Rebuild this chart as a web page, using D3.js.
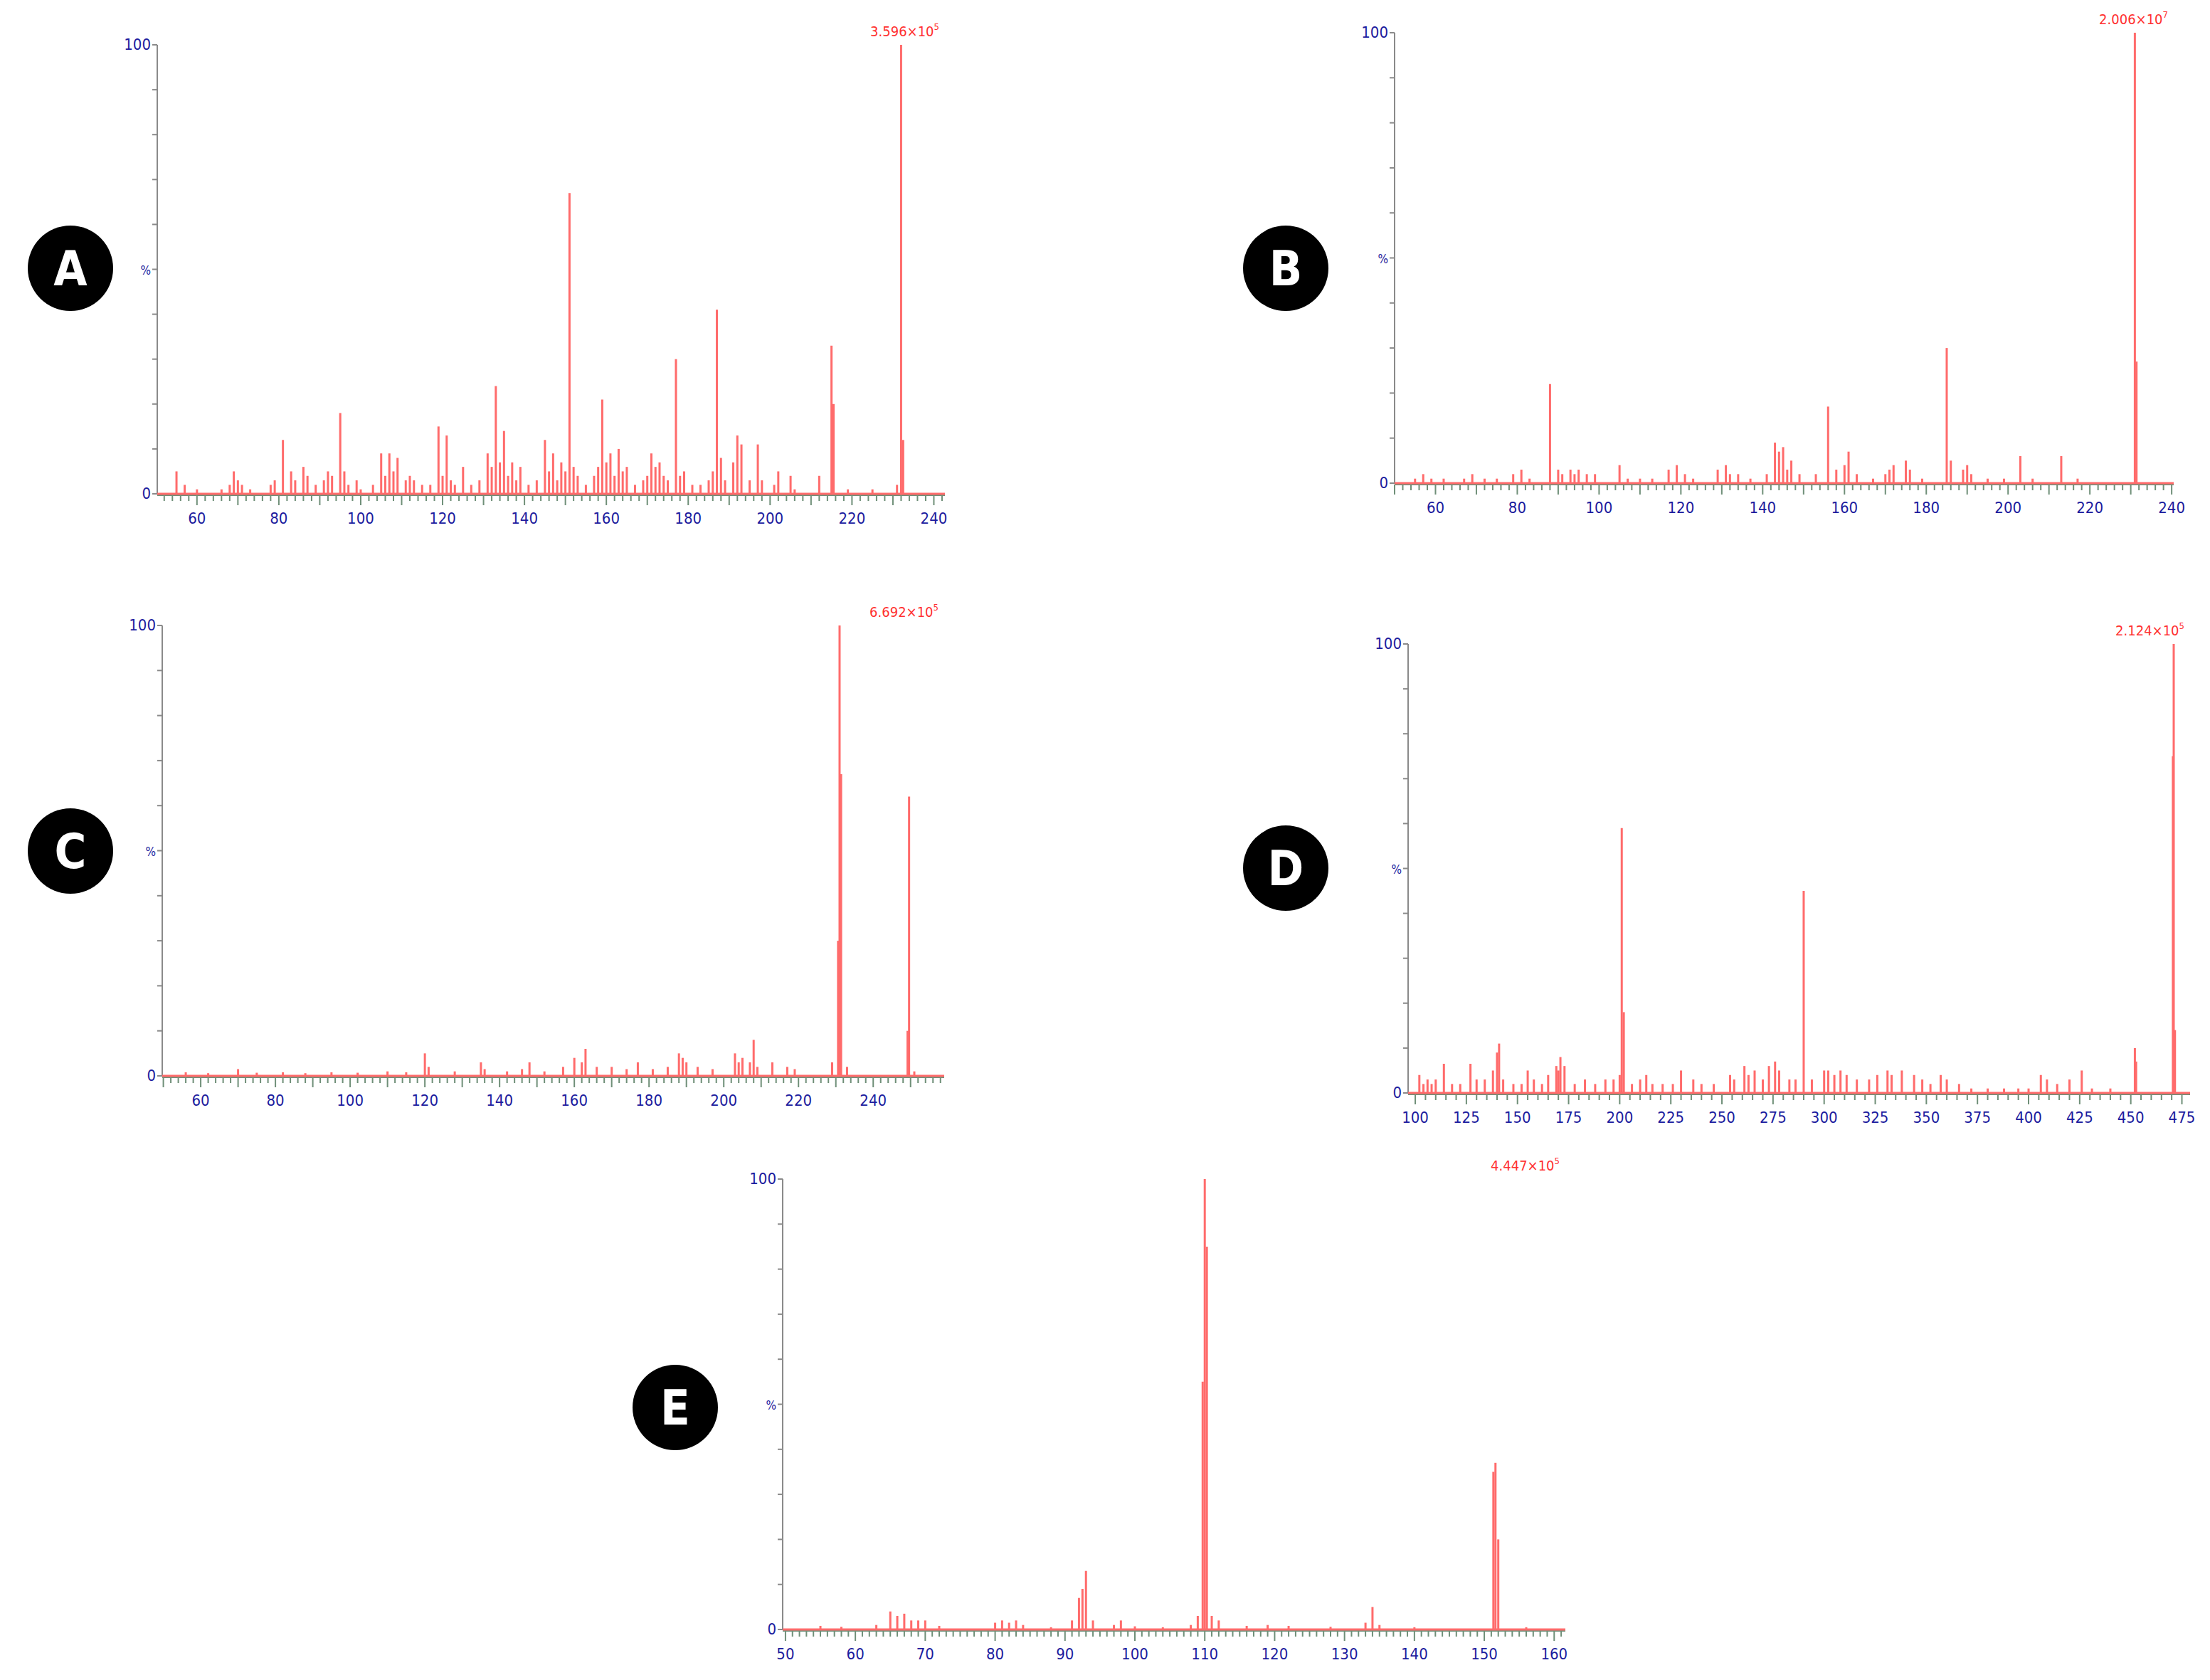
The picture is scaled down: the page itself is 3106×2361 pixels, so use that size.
<!DOCTYPE html>
<html>
<head>
<meta charset="utf-8">
<script src="https://cdn.jsdelivr.net/npm/d3@7"></script>
<style>
  body { margin: 0; background: #fff; }
  text { font-family: "Liberation Sans Narrow", "DejaVu Sans Condensed", sans-serif; }
</style>
</head>
<body>
<div id="image"></div>
<script>
// spectra: [m/z, relative intensity %]
const peaksA = [[55,5],[57,2],[60,1],[66,1],[68,2],[69,5],[70,3],[71,2],[73,1],[78,2],[79,3],[81,12],[83,5],[84,3],[86,6],[87,4],[89,2],[91,3],[92,5],[93,4],[95,18],[96,5],[97,2],[99,3],[100,1],[103,2],[105,9],[106,4],[107,9],[108,5],[109,8],[111,3],[112,4],[113,3],[115,2],[117,2],[119,15],[120,4],[121,13],[122,3],[123,2],[125,6],[127,2],[129,3],[131,9],[132,6],[133,24],[134,7],[135,14],[136,4],[137,7],[138,3],[139,6],[141,2],[143,3],[145,12],[146,5],[147,9],[148,3],[149,7],[150,5],[151,67],[152,6],[153,4],[155,2],[157,4],[158,6],[159,21],[160,7],[161,9],[162,4],[163,10],[164,5],[165,6],[167,2],[169,3],[170,4],[171,9],[172,6],[173,7],[174,4],[175,3],[177,30],[178,4],[179,5],[181,2],[183,2],[185,3],[186,5],[187,41],[188,8],[189,3],[191,7],[192,13],[193,11],[195,3],[197,11],[198,3],[201,2],[202,5],[205,4],[206,1],[212,4],[215,33],[215.5,20],[219,1],[225,1],[231,2],[232,100],[232.5,12]];
const peaksB = [[55,1],[57,2],[59,1],[62,1],[67,1],[69,2],[72,1],[75,1],[79,2],[81,3],[83,1],[88,22],[90,3],[91,2],[93,3],[94,2],[95,3],[97,2],[99,2],[105,4],[107,1],[110,1],[113,1],[117,3],[119,4],[121,2],[123,1],[129,3],[131,4],[132,2],[134,2],[137,1],[141,2],[143,9],[144,7],[145,8],[146,3],[147,5],[149,2],[153,2],[156,17],[158,3],[160,4],[161,7],[163,2],[167,1],[170,2],[171,3],[172,4],[175,5],[176,3],[179,1],[185,30],[186,5],[189,3],[190,4],[191,2],[195,1],[199,1],[203,6],[206,1],[213,6],[217,1],[231,100],[231.4,27]];
const peaksC = [[56,0.8],[62,0.6],[70,1.5],[75,0.7],[82,0.8],[88,0.6],[95,0.8],[102,0.7],[110,1],[115,0.8],[120,5],[121,2],[128,1],[135,3],[136,1.5],[142,1],[146,1.5],[148,3],[152,1],[157,2],[160,4],[162,3],[163,6],[166,2],[170,2],[174,1.5],[177,3],[181,1.5],[185,2],[188,5],[189,4],[190,3],[193,2],[197,1.5],[203,5],[204,3],[205,4],[207,3],[208,8],[209,2],[213,3],[217,2],[219,1.5],[229,3],[230.6,30],[231,100],[231.4,67],[233,2],[249.2,10],[249.6,62],[251,1]];
const peaksD = [[102,4],[104,2],[106,3],[108,2],[110,3],[114,6.5],[118,2],[122,2],[127,6.5],[130,3],[134,3],[138,5],[140,9],[141,11],[143,3],[148,2],[152,2],[155,5],[158,3],[162,2],[165,4],[169,6],[170,5],[171,8],[173,6],[178,2],[183,3],[188,2],[193,3],[197,3],[200,4],[201,59],[202,18],[206,2],[210,3],[213,4],[216,2],[221,2],[226,2],[230,5],[236,3],[240,2],[246,2],[254,4],[256,3],[261,6],[263,4],[266,5],[270,3],[273,6],[276,7],[278,5],[283,3],[286,3],[290,45],[294,3],[300,5],[302,5],[305,4],[308,5],[311,4],[316,3],[322,3],[326,4],[331,5],[333,4],[338,5],[344,4],[348,3],[352,2],[357,4],[360,3],[366,2],[372,1],[380,1],[388,1],[395,1],[400,1],[406,4],[409,3],[414,2],[420,3],[426,5],[431,1],[440,1],[452,10],[452.6,7],[470.6,75],[471,100],[471.6,14]];
const peaksE = [[55,0.8],[58,0.6],[63,1],[65,4],[66,3],[67,3.5],[68,2],[69,2],[70,2],[72,0.8],[80,1.5],[81,2],[82,1.5],[83,2],[84,1],[88,0.5],[91,2],[92,7],[92.5,9],[93,13],[94,2],[97,1],[98,2],[100,0.7],[104,0.5],[108,1],[109,3],[109.7,55],[110,100],[110.3,85],[111,3],[112,2],[116,0.8],[119,1],[122,0.8],[128,0.6],[133,1.5],[134,5],[135,1],[140,0.5],[151.3,35],[151.6,37],[152,20],[156,0.5]];

const peakLabels = ["3.596×10", "2.006×10", "6.692×10", "2.124×10", "4.447×10"];
const peakExps = ["5", "7", "5", "5", "5"];
const panelLetters = ["A", "B", "C", "D", "E"];
const xDomains = [[50.3, 242.7], [50, 240.5], [49.7, 259], [96.5, 479], [49.6, 161.6]];
const xMajorTicks = [
  [60,80,100,120,140,160,180,200,220,240],
  [60,80,100,120,140,160,180,200,220,240],
  [60,80,100,120,140,160,180,200,220,240],
  [100,125,150,175,200,225,250,275,300,325,350,375,400,425,450,475],
  [50,60,70,80,90,100,110,120,130,140,150,160]
];
const minorSteps = [2, 2, 2, 5, 1];
const midSteps = [10, 10, 10, 25, 10];

// layout in page pixels
const panels = [
  { data: peaksA, x0: 221, x1: 1328, y0: 694, y1: 63, cx: 99, cy: 377 },
  { data: peaksB, x0: 1960, x1: 3055, y0: 679, y1: 46, cx: 1807, cy: 377 },
  { data: peaksC, x0: 228, x1: 1327, y0: 1512, y1: 879, cx: 99, cy: 1196 },
  { data: peaksD, x0: 1979, x1: 3078, y0: 1536, y1: 905, cx: 1807, cy: 1220 },
  { data: peaksE, x0: 1100, x1: 2200, y0: 2290, y1: 1657, cx: 949, cy: 1978 }
];

const svg = d3.select("#image").append("svg")
  .attr("width", 3106)
  .attr("height", 2361);

const navy = "#1c1c9e", red = "#ff6b6b", grey = "#8a8a8a";

panels.forEach((p, i) => {
  const x = d3.scaleLinear().domain(xDomains[i]).range([p.x0, p.x1]);
  const y = d3.scaleLinear().domain([0, 100]).range([p.y0, p.y1]);
  const g = svg.append("g");

  // y axis line + minor ticks every 10%
  g.append("line").attr("x1", p.x0).attr("x2", p.x0).attr("y1", y(100)).attr("y2", y(0))
    .attr("stroke", grey).attr("stroke-width", 2);
  g.selectAll(".yt").data(d3.range(0, 101, 10)).enter().append("line")
    .attr("x1", p.x0 - 7).attr("x2", p.x0).attr("y1", d => y(d)).attr("y2", d => y(d))
    .attr("stroke", grey).attr("stroke-width", 2);
  [[100, "100"], [50, "%"], [0, "0"]].forEach(([v, t]) => {
    g.append("text").attr("x", p.x0 - 9).attr("y", y(v) + 7).attr("text-anchor", "end")
      .attr("font-size", t === "%" ? 17 : 22).attr("fill", navy).text(t);
  });

  // x axis ticks
  const dom = xDomains[i];
  const st = minorSteps[i];
  const minor = d3.range(Math.ceil(dom[0] / st) * st, dom[1], st);
  g.selectAll(".xt").data(minor).enter().append("line")
    .attr("x1", d => x(d)).attr("x2", d => x(d))
    .attr("y1", p.y0 + 2)
    .attr("y2", d => p.y0 + (d % midSteps[i] === 0 ? 16 : 10))
    .attr("stroke", "#6f8f78").attr("stroke-width", 2);
  g.append("line").attr("x1", p.x0).attr("x2", p.x1).attr("y1", p.y0 + 2).attr("y2", p.y0 + 2)
    .attr("stroke", "#6f8f78").attr("stroke-width", 2);
  g.selectAll(".xl").data(xMajorTicks[i]).enter().append("text")
    .attr("x", d => x(d)).attr("y", p.y0 + 42).attr("text-anchor", "middle")
    .attr("font-size", 22).attr("fill", navy).text(d => d);

  // baseline + peaks
  g.append("line").attr("x1", p.x0).attr("x2", p.x1).attr("y1", p.y0).attr("y2", p.y0)
    .attr("stroke", red).attr("stroke-width", 3);
  g.selectAll(".pk").data(p.data).enter().append("line")
    .attr("x1", d => x(d[0])).attr("x2", d => x(d[0]))
    .attr("y1", y(0)).attr("y2", d => y(d[1]))
    .attr("stroke", red).attr("stroke-width", 3);

  // base peak intensity label
  const lbl = g.append("text").attr("x", p.x1 - 8).attr("y", p.y1 - 12).attr("text-anchor", "end")
    .attr("font-size", 20).attr("fill", "#ff3030");
  lbl.append("tspan").text(peakLabels[i]);
  lbl.append("tspan").attr("dy", -9).attr("font-size", 13).text(peakExps[i]);

  // panel letter
  g.append("circle").attr("cx", p.cx).attr("cy", p.cy).attr("r", 60).attr("fill", "#000");
  g.append("text").attr("x", p.cx).attr("y", p.cy + 24).attr("text-anchor", "middle")
    .attr("font-family", "Open Sans, sans-serif").attr("font-weight", 600).attr("font-size", 68).attr("fill", "#fff")
    .text(panelLetters[i]);
});
</script>
</body>
</html>
